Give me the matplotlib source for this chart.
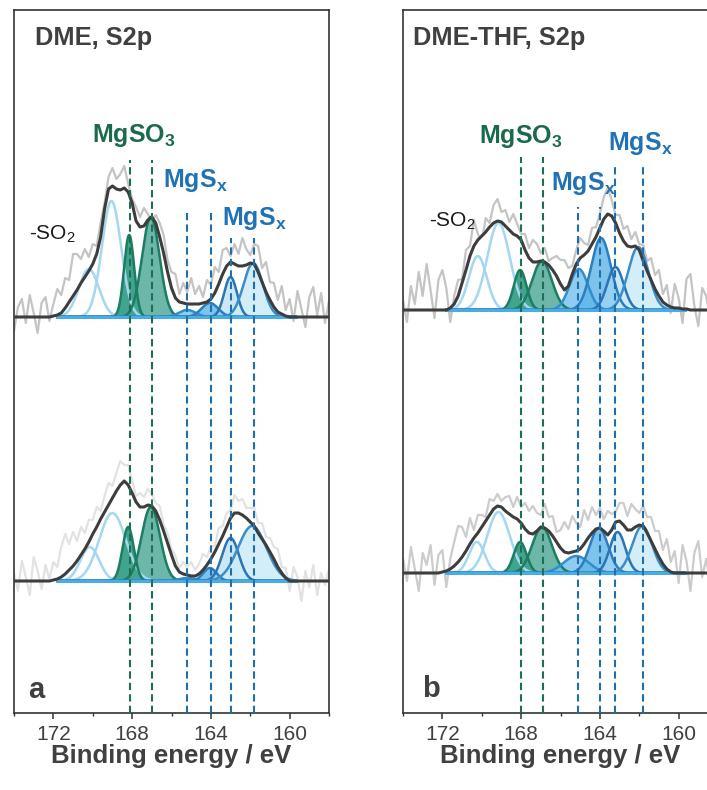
import numpy as np
import matplotlib
matplotlib.use("Agg")
import matplotlib.pyplot as plt

plt.rcParams['font.family'] = 'Liberation Sans'
plt.rcParams['mathtext.fontset'] = 'custom'
plt.rcParams['mathtext.rm'] = 'Liberation Sans'
plt.rcParams['mathtext.bf'] = 'Liberation Sans:bold'
plt.rcParams['mathtext.it'] = 'Liberation Sans:italic'

# binding energy grid of the measured spectra (eV), 174 -> 158 in 0.2 eV steps
energy = np.linspace(174.0, 158.0, 81)

# smoothed spectra (envelope), intensity in a.u.
env_a_top = [0, 0, 0, 0, 0, 0, 0, 0, 0, 0,
             1, 2, 4, 9, 15, 21, 27, 34, 40, 46,
             53, 63, 80, 108, 128, 131, 128, 127, 129, 125,
             114, 96, 90, 91, 97, 100, 94, 80, 64, 45,
             29, 19, 15, 14, 13, 13, 13, 13, 14, 15,
             18, 24, 33, 43, 51, 55, 53, 51, 51, 52,
             54, 53, 45, 35, 25, 17, 10, 5, 3, 1,
             0, 0, 0, 0, 0, 0, 0, 0, 0, 0, 0]
env_a_bot = [0, 0, 0, 0, 0, 0, 0, 0, 0, 0,
             1, 2, 4, 7, 11, 15, 20, 26, 32, 39,
             47, 54, 62, 69, 76, 83, 90, 96, 100, 96,
             88, 79, 74, 74, 76, 75, 70, 61, 50, 38,
             26, 15, 9, 7, 6, 5, 5, 7, 11, 16,
             22, 29, 37, 45, 54, 63, 68, 68, 66, 63,
             59, 55, 48, 42, 36, 29, 22, 14, 8, 3,
             0, 0, 0, 0, 0, 0, 0, 0, 0, 0, 0]
env_b_top = [0, 0, 0, 0, 0, 0, 0, 0, 0, 0,
             0, 0, 2, 6, 14, 27, 40, 54, 64, 70,
             74, 78, 83, 87, 89, 88, 84, 80, 76, 74,
             70, 60, 52, 48, 48, 49, 48, 45, 40, 34,
             26, 20, 24, 36, 46, 52, 55, 59, 66, 73,
             82, 91, 96, 94, 87, 77, 69, 64, 63, 64,
             60, 49, 39, 30, 21, 14, 8, 5, 3, 2,
             2, 1, 1, 0, 0, 0, 0, 0, 0, 0, 0]
env_b_bot = [0, 0, 0, 0, 0, 0, 0, 0, 0, 0,
             1, 2, 4, 7, 11, 16, 22, 29, 35, 40,
             46, 52, 58, 64, 67, 66, 62, 59, 56, 54,
             50, 44, 40, 39, 42, 46, 45, 42, 37, 31,
             25, 21, 20, 21, 22, 24, 29, 35, 40, 44,
             45, 42, 38, 43, 51, 52, 48, 43, 43, 46,
             48, 47, 40, 32, 24, 16, 9, 4, 1, 0,
             0, 0, 0, 0, 0, 0, 0, 0, 0, 0, 0]

# raw data minus envelope (noise), same grid
res_a_top = [-14, 10, 18, -6, 22, 4, -16, 14, 20, -4,
             12, 26, 18, 30, 22, 42, 36, 24, 28, 14,
             20, 8, 14, 6, 12, 18, 10, 16, 22, 8,
             4, 14, 10, 18, 6, -4, 8, 14, 18, 12,
             16, 24, 8, 20, 12, 26, 10, 18, 6, 22,
             14, 26, 12, 24, 18, 6, 20, 12, 28, 16,
             8, 20, 26, 14, 30, 18, 24, 12, 28, 6,
             18, -4, 26, 8, -10, 20, 30, 2, 24, -6, 16]
res_a_bot = [8, -10, 20, 4, -14, 24, 10, -8, 16, 2,
             18, 12, 30, 40, 26, 34, 20, 28, 16, 22,
             14, 20, 8, 16, 22, 12, 18, 24, 16, 20,
             12, 6, 14, 10, 16, 12, 8, 14, 6, 10,
             6, 10, 4, 12, 8, 14, 6, 10, 16, 8,
             12, 6, 16, 10, 14, 8, 18, 12, 16, 10,
             14, 18, 10, 16, 8, 14, 12, 18, 6, 10,
             -10, 14, 4, -20, 10, -6, 16, -14, 8, -4, 12]
res_b_top = [10, -12, 24, 6, 38, 14, 46, 20, -8, 30,
             40, 22, -14, 8, 16, 4, 20, 10, 26, 6,
             -6, 14, 4, 18, 22, 10, 16, 8, 20, 12,
             6, 16, 10, 22, 18, 8, 14, 4, 12, 20,
             24, 30, 18, 8, 14, 20, 12, 6, 16, 10,
             14, 22, 26, 16, 8, 18, 12, 20, 8, 14,
             6, 16, 10, 22, 14, 26, 8, 20, -6, 24,
             10, -14, 30, 36, 4, -16, 22, 14, -8, 28, 6]
res_b_bot = [14, -8, 26, 4, -18, 20, 8, 28, -12, 18,
             22, -16, 10, 24, 36, 30, 14, 26, 8, 18,
             12, 4, 16, 8, 12, 6, 14, 18, 10, 22,
             16, 26, 22, 28, 18, 12, 24, 14, 20, 10,
             18, 30, 24, 36, 28, 22, 34, 18, 26, 14,
             20, 12, 24, 16, 10, 18, 22, 14, 26, 18,
             12, 20, 16, 24, 18, 26, 14, 30, 10, 22,
             -10, 28, 12, -18, 20, 32, -4, 14, -12, 24, 6]

# fitted components: centre (eV), height, FWHM (eV), species
comp_kind = ['so2', 'so2', 'so3a', 'so3b', 'sx1', 'sx2', 'sx3', 'sx4']
pos_a_top = [170.2, 169.05, 168.15, 167.05, 165.2, 164.05, 163.0, 161.85]
amp_a_top = [48, 116, 82, 100, 7, 14, 40, 54]
fwhm_a_top = [1.2, 1.15, 0.6, 1.05, 1.0, 1.0, 0.76, 1.15]
pos_a_bot = [170.15, 169.0, 168.2, 167.05, 165.2, 164.05, 163.0, 161.9]
amp_a_bot = [34, 68, 54, 74, 3, 13, 43, 55]
fwhm_a_bot = [1.13, 1.6, 0.68, 1.1, 1.0, 0.8, 1.0, 1.7]
pos_b_top = [170.2, 169.15, 168.05, 166.94, 165.07, 163.94, 163.21, 162.05]
amp_b_top = [54, 87, 40, 49, 41, 72, 43, 63]
fwhm_b_top = [1.07, 1.35, 0.76, 1.18, 1.1, 1.18, 0.98, 1.22]
pos_b_bot = [170.25, 169.15, 168.05, 166.94, 165.2, 164.05, 163.1, 161.85]
amp_b_bot = [31, 61, 31, 46, 17, 45, 41, 47]
fwhm_b_bot = [0.93, 1.35, 0.76, 1.18, 1.5, 1.1, 0.93, 1.18]

# reference binding energies (dashed guides)
ref_so3_a = [168.1, 167.0]
ref_sx_a = [165.2, 164.0, 163.0, 161.8]
ref_so3_b = [168.0, 166.9]
ref_sx_b = [165.1, 164.0, 163.25, 161.8]

# stacking offsets (top / bottom spectrum)
offs_a = [396, 132]
offs_b = [403, 140]

style = {
    'so2':  dict(edge='#a3d7f2', face=None, alpha=0),
    'so3a': dict(edge='#1b7d62', face='#1f9478', alpha=0.85),
    'so3b': dict(edge='#1b7d62', face='#47a591', alpha=0.8),
    'sx1':  dict(edge='#2f8ed0', face='#72c1ec', alpha=0.8),
    'sx2':  dict(edge='#2a7fc2', face='#5cb5e8', alpha=0.8),
    'sx3':  dict(edge='#2c74b5', face='#a9daf3', alpha=0.6),
    'sx4':  dict(edge='#3a8dcb', face='#cdecf9', alpha=0.85),
}
GREEN = '#1a6b4a'
BLUE = '#1f72b5'
DARK = '#404040'


def draw_spectrum(ax, off, env, res, pos, amp, fwhm, raw_color):
    env = np.array(env, dtype=float)
    raw = env + np.array(res, dtype=float)
    ax.plot(energy, off + raw, color=raw_color, lw=1.6, zorder=1)
    ax.fill_between(energy, off, off + env, color='white', lw=0, zorder=2)
    xf = np.linspace(171.8, 159.7, 700)
    for c, h, w, k in zip(pos, amp, fwhm, comp_kind):
        y = h * np.exp(-4 * np.log(2) * (xf - c) ** 2 / w ** 2)
        st = style[k]
        if st['face'] is not None:
            ax.fill_between(xf, off, off + y, color=st['face'], alpha=st['alpha'], lw=0, zorder=3)
        ax.plot(xf, off + y, color=st['edge'], lw=1.8, zorder=4)
    ax.plot([171.8, 159.7], [off, off], color='#48ade6', lw=2.2, zorder=4.5)
    ax.plot(energy, off + env, color='#3d3d3d', lw=2.2, zorder=5)


fig = plt.figure(figsize=(7.07, 7.90), dpi=100)
ax_a = fig.add_axes([14 / 707, 77 / 790, 315 / 707, 703 / 790])
ax_b = fig.add_axes([403 / 707, 77 / 790, 315 / 707, 703 / 790])

draw_spectrum(ax_a, offs_a[0], env_a_top, res_a_top, pos_a_top, amp_a_top, fwhm_a_top, '#c4c4c4')
draw_spectrum(ax_a, offs_a[1], env_a_bot, res_a_bot, pos_a_bot, amp_a_bot, fwhm_a_bot, '#e2e2e2')
draw_spectrum(ax_b, offs_b[0], env_b_top, res_b_top, pos_b_top, amp_b_top, fwhm_b_top, '#c4c4c4')
draw_spectrum(ax_b, offs_b[1], env_b_bot, res_b_bot, pos_b_bot, amp_b_bot, fwhm_b_bot, '#cccccc')

dash = (0, (3.5, 2))
ax_a.vlines(ref_so3_a, 0, 553, colors='#1e6e52', lw=1.5, linestyles=dash, zorder=6)
ax_a.vlines(ref_sx_a[:2], 0, 503, colors='#1f6fae', lw=1.5, linestyles=dash, zorder=6)
ax_a.vlines(ref_sx_a[2:], 0, 475, colors='#1f6fae', lw=1.5, linestyles=dash, zorder=6)
ax_b.vlines(ref_so3_b, 0, 556, colors='#1e6e52', lw=1.5, linestyles=dash, zorder=6)
ax_b.vlines(ref_sx_b[:2], 0, 506, colors='#1f6fae', lw=1.5, linestyles=dash, zorder=6)
ax_b.vlines(ref_sx_b[2], 0, 546, colors='#1f6fae', lw=1.5, linestyles=dash, zorder=6)
ax_b.vlines(ref_sx_b[3], 0, 550, colors='#1f6fae', lw=1.5, linestyles=dash, zorder=6)

lab = dict(ha='center', va='baseline', fontsize=18, fontweight='bold', zorder=7)
ax_a.text(167.94, 571, r'MgSO$_\mathbf{3}$', color=GREEN, **lab)
ax_a.text(164.8, 526, r'MgS$_\mathbf{x}$', color=BLUE, **lab)
ax_a.text(161.8, 488, r'MgS$_\mathbf{x}$', color=BLUE, **lab)
ax_a.text(172.05, 473, r'-SO$_2$', color='#1a1a1a', ha='center', va='baseline', fontsize=15)
ax_b.text(168.04, 570, r'MgSO$_\mathbf{3}$', color=GREEN, **lab)
ax_b.text(161.94, 563, r'MgS$_\mathbf{x}$', color=BLUE, **lab)
ax_b.text(164.84, 523, r'MgS$_\mathbf{x}$', color=BLUE, **lab)
ax_b.text(171.49, 486, r'-SO$_2$', color='#1a1a1a', ha='center', va='baseline', fontsize=15)

ax_a.text(0.067, 0.950, 'DME, S2p', transform=ax_a.transAxes, ha='left', va='baseline',
          fontsize=18.3, fontweight='bold', color=DARK)
ax_b.text(0.032, 0.950, 'DME-THF, S2p', transform=ax_b.transAxes, ha='left', va='baseline',
          fontsize=18.3, fontweight='bold', color=DARK)
ax_a.text(0.044, 0.021, 'a', transform=ax_a.transAxes, ha='left', va='baseline',
          fontsize=21, fontweight='bold', color=DARK)
ax_b.text(0.060, 0.023, 'b', transform=ax_b.transAxes, ha='left', va='baseline',
          fontsize=21, fontweight='bold', color=DARK)

for ax in [ax_a, ax_b]:
    ax.set_xlim(174, 158)
    ax.set_ylim(0, 703)
    ax.set_xticks([172, 168, 164, 160])
    ax.set_xticks([174, 170, 166, 162, 158], minor=True)
    ax.set_yticks([])
    ax.tick_params(axis='x', which='major', direction='out', length=4, width=1.1,
                   labelsize=15, labelcolor=DARK, color='#333333', pad=4.3)
    ax.tick_params(axis='x', which='minor', direction='out', length=2.5, width=1.0, color='#333333')
    for sp in ax.spines.values():
        sp.set_color('#333333')
        sp.set_linewidth(1.2)
    ax.text(0.5, -0.0711, 'Binding energy / eV', transform=ax.transAxes, ha='center',
            va='baseline', fontsize=18.5, fontweight='bold', color=DARK)

fig.savefig('out.png', dpi=100)
